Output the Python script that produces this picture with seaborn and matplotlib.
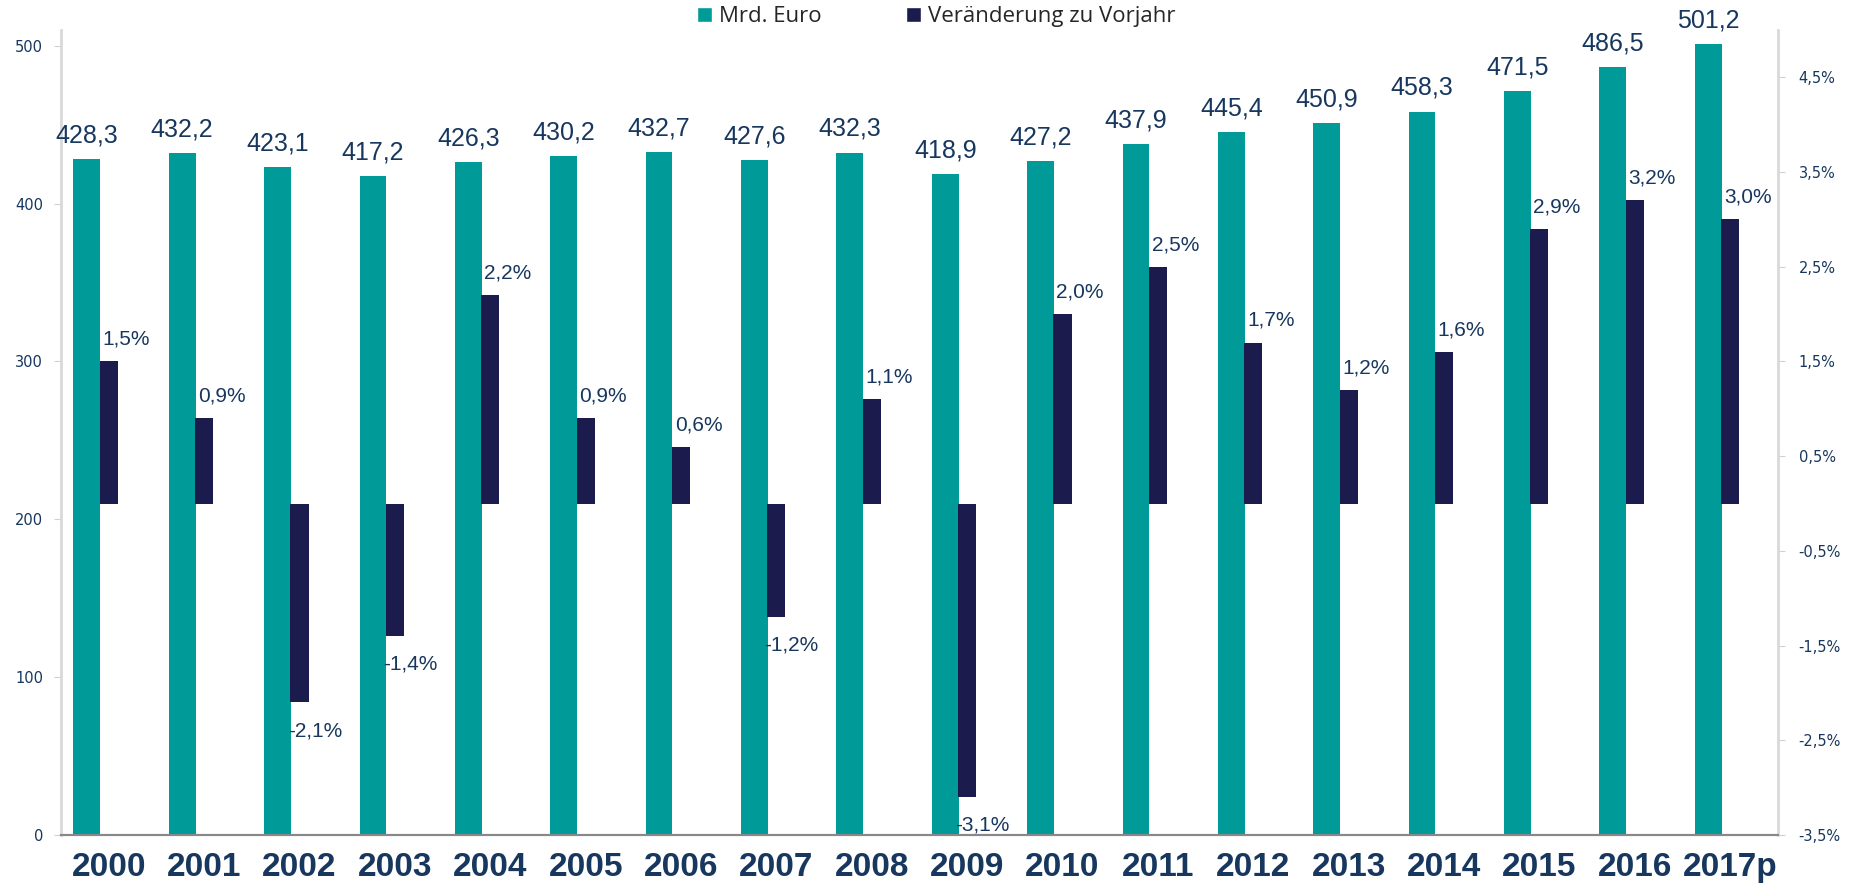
import pandas as pd
import seaborn as sns
import matplotlib.pyplot as plt
from matplotlib.patches import Patch
from matplotlib.ticker import FixedLocator, FuncFormatter

# =========================
# Daten
# =========================
jahre = ["2000", "2001", "2002", "2003", "2004", "2005", "2006", "2007", "2008",
         "2009", "2010", "2011", "2012", "2013", "2014", "2015", "2016", "2017p"]
mrd_euro = [428.3, 432.2, 423.1, 417.2, 426.3, 430.2, 432.7, 427.6, 432.3,
            418.9, 427.2, 437.9, 445.4, 450.9, 458.3, 471.5, 486.5, 501.2]
veraenderung = [1.5, 0.9, -2.1, -1.4, 2.2, 0.9, 0.6, -1.2, 1.1,
                -3.1, 2.0, 2.5, 1.7, 1.2, 1.6, 2.9, 3.2, 3.0]
rechte_ticks = [-3.5, -2.5, -1.5, -0.5, 0.5, 1.5, 2.5, 3.5, 4.5]

df = pd.DataFrame({"Jahr": jahre, "Mrd": mrd_euro, "Veraenderung": veraenderung})

TEAL = "#009B98"
DUNKEL = "#1C1B4E"
TEXT = "#17375E"

sns.set_style("white")
plt.rcParams["font.family"] = ["Liberation Sans", "DejaVu Sans"]

fig, ax = plt.subplots(figsize=(18.5, 8.83), dpi=100)
fig.subplots_adjust(left=0.033, right=0.961, bottom=0.0544, top=0.966)

# Teal-Balken (linke Achse)
sns.barplot(data=df, x="Jahr", y="Mrd", color=TEAL, width=0.28, saturation=1,
            linewidth=0, ax=ax)
for p in ax.patches:
    p.set_x(p.get_x() - 0.23)

# Dunkle Balken (rechte Achse)
ax2 = ax.twinx()
sns.barplot(data=df, x="Jahr", y="Veraenderung", color=DUNKEL, width=0.19, saturation=1,
            linewidth=0, ax=ax2)

ax.set_xlim(-0.5, len(jahre) - 0.5)
ax.set_ylim(0, 510)
ax2.set_ylim(-3.5, 5.0)

# Beschriftungen
for i, v in enumerate(mrd_euro):
    ax.annotate(f"{v:.1f}".replace(".", ","), (i - 0.23, v), xytext=(0, 12),
                textcoords="offset points", ha="center", va="baseline",
                fontsize=18, color=TEXT)
for i, v in enumerate(veraenderung):
    txt = f"{v:.1f}%".replace(".", ",")
    if v >= 0:
        ax2.annotate(txt, (i - 0.095, v), xytext=(2, 12), textcoords="offset points",
                     ha="left", va="baseline", fontsize=15, color=TEXT)
    else:
        ax2.annotate(txt, (i - 0.095, v), xytext=(-2, -13.5), textcoords="offset points",
                     ha="left", va="top", fontsize=15, color=TEXT)

# Achsen
ax.set_xlabel("")
ax.set_ylabel("")
ax2.set_ylabel("")
ax.set_yticks([0, 100, 200, 300, 400, 500])
ax2.yaxis.set_major_locator(FixedLocator(rechte_ticks))
ax2.yaxis.set_major_formatter(FuncFormatter(lambda x, pos: f"{x:.1f}%".replace(".", ",")))

for t in ax.get_yticklabels() + ax2.get_yticklabels():
    t.set_family(["DejaVu Sans"])
ax.tick_params(axis="y", labelsize=10.5, labelcolor=TEXT, length=5, color="#D0D0D0", pad=8)
ax2.tick_params(axis="y", labelsize=10.5, labelcolor=TEXT, length=5, color="#D0D0D0", pad=10)

ax.set_xticks(range(len(jahre)))
ax.set_xticklabels(jahre, fontsize=24, fontweight="bold", color=TEXT,
                   family=["Liberation Sans Narrow", "Liberation Sans"])
ax.xaxis.set_minor_locator(FixedLocator([i - 0.5 for i in range(len(jahre) + 1)]))
ax.tick_params(axis="x", which="major", length=0, pad=12)
ax.tick_params(axis="x", which="minor", length=8, color="#888888", width=1.5)

for a in (ax, ax2):
    a.spines["top"].set_visible(False)
    a.spines["left"].set_color("#D9D9D9")
    a.spines["right"].set_color("#D9D9D9")
    a.spines["left"].set_linewidth(2)
    a.spines["right"].set_linewidth(2)
    a.spines["bottom"].set_color("#888888")
    a.spines["bottom"].set_linewidth(1.5)
ax2.spines["left"].set_visible(False)
ax.spines["right"].set_visible(False)

# Legende
handles = [Patch(facecolor=TEAL, label="Mrd. Euro"),
           Patch(facecolor=DUNKEL, label="Veränderung zu Vorjahr")]
fig.legend(handles=handles, loc="center", bbox_to_anchor=(0.506, 0.981), ncol=2,
           frameon=False, prop={"family": "Open Sans", "size": 16},
           handlelength=0.7, handleheight=0.7, handletextpad=0.3, columnspacing=3.8)

plt.savefig("out.png", dpi=100)
plt.close(fig)
